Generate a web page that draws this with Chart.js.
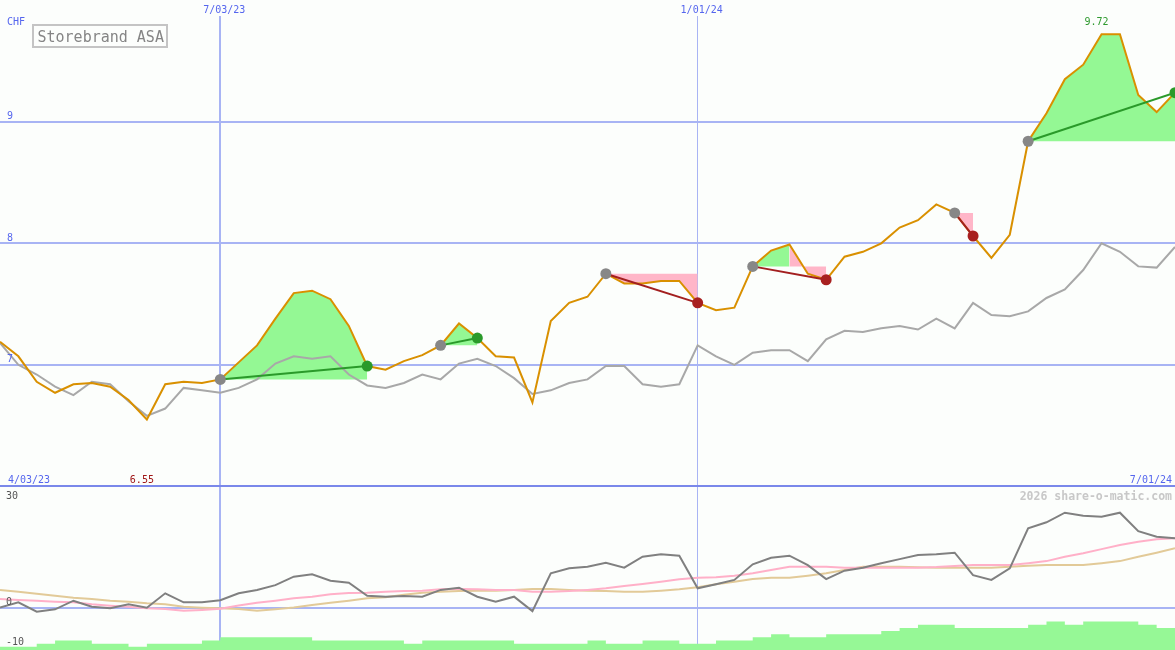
<!DOCTYPE html>
<html>
<head>
<meta charset="utf-8">
<script src="https://cdn.jsdelivr.net/npm/chart.js@4.4.1/dist/chart.umd.min.js"></script>
<style>
  html, body { margin: 0; padding: 0; background: #fcfefc; }
  canvas { display: block; }
</style>
</head>
<body>
<canvas id="chart" width="1175" height="650"></canvas>
<script>
// week index 0..64, labelled dates on the x axis
const dateLabels = ['4/03/23', '7/03/23', '1/01/24', '7/01/24'];
const dateIdx = [0, 12, 38, 64];
const priceTicks = [7, 8, 9];
const lowerTicks = [30, 0, -10];

// weekly close, CHF
const price = [
  7.19, 7.07, 6.86, 6.77, 6.84, 6.85, 6.82, 6.71, 6.55, 6.84,
  6.86, 6.85, 6.88, 7.02, 7.16, 7.38, 7.59, 7.61, 7.54, 7.32,
  6.99, 6.96, 7.03, 7.08, 7.16, 7.34, 7.22, 7.07, 7.06, 6.69,
  7.36, 7.51, 7.56, 7.75, 7.67, 7.67, 7.69, 7.69, 7.51, 7.45,
  7.47, 7.81, 7.94, 7.99, 7.75, 7.70, 7.89, 7.93, 8.00, 8.13,
  8.19, 8.32, 8.25, 8.06, 7.88, 8.07, 8.84, 9.07, 9.35, 9.47,
  9.72, 9.72, 9.22, 9.08, 9.24
];
// comparison index (grey line)
const compare = [
  7.18, 7.00, 6.92, 6.82, 6.75, 6.86, 6.84, 6.70, 6.58, 6.64,
  6.81, 6.79, 6.77, 6.81, 6.88, 7.01, 7.07, 7.05, 7.07, 6.92,
  6.83, 6.81, 6.85, 6.92, 6.88, 7.01, 7.05, 6.99, 6.89, 6.76,
  6.79, 6.85, 6.88, 6.99, 6.99, 6.84, 6.82, 6.84, 7.16, 7.07,
  7.00, 7.10, 7.12, 7.12, 7.03, 7.21, 7.28, 7.27, 7.30, 7.32,
  7.29, 7.38, 7.30, 7.51, 7.41, 7.40, 7.44, 7.55, 7.62, 7.78,
  8.00, 7.93, 7.81, 7.80, 7.97
];
// lower panel
const momentum = [
  0.0, 1.3, -1.05, -0.45, 1.7, 0.2, -0.2, 0.8, -0.05, 3.55,
  1.3, 1.3, 1.8, 3.55, 4.4, 5.6, 7.7, 8.3, 6.7, 6.2,
  2.95, 2.7, 2.9, 2.7, 4.4, 4.95, 2.7, 1.45, 2.7, -0.9,
  8.55, 9.8, 10.2, 11.2, 9.95, 12.7, 13.3, 12.95, 4.8, 5.8,
  6.9, 10.8, 12.45, 12.95, 10.6, 7.1, 9.2, 9.95, 11.05, 12.1,
  13.1, 13.3, 13.7, 8.1, 6.9, 9.8, 19.8, 21.3, 23.7, 22.95,
  22.7, 23.7, 19.1, 17.7, 17.3
];
const avgFast = [
  2.1, 1.9, 1.7, 1.45, 1.3, 0.8, 0.45, 0.2, -0.2, -0.4,
  -0.8, -0.6, -0.3, 0.5, 1.2, 1.7, 2.3, 2.7, 3.3, 3.6,
  3.7, 3.95, 4.1, 4.2, 4.55, 4.6, 4.55, 4.4, 4.4, 3.95,
  3.95, 4.1, 4.4, 4.8, 5.4, 5.9, 6.45, 7.05, 7.45, 7.55,
  7.95, 8.55, 9.4, 10.2, 10.2, 10.2, 9.95, 9.95, 9.95, 9.95,
  9.95, 10.1, 10.4, 10.6, 10.6, 10.6, 11.05, 11.6, 12.7, 13.55,
  14.6, 15.6, 16.45, 17.05, 17.3
];
const avgSlow = [
  4.4, 3.95, 3.45, 2.95, 2.45, 2.1, 1.7, 1.45, 1.05, 0.8,
  0.2, -0.05, -0.2, -0.4, -0.8, -0.45, 0.0, 0.6, 1.2, 1.7,
  2.3, 2.55, 3.2, 3.7, 3.95, 4.1, 4.2, 4.2, 4.4, 4.6,
  4.6, 4.4, 4.2, 4.1, 3.95, 3.95, 4.2, 4.55, 5.05, 5.8,
  6.45, 7.1, 7.45, 7.45, 7.95, 8.55, 9.4, 10.2, 10.2, 10.2,
  10.05, 9.95, 9.95, 9.95, 9.95, 10.2, 10.45, 10.6, 10.6, 10.6,
  11.05, 11.6, 12.7, 13.7, 14.8
];
const volume = [
  1, 1, 2, 3, 3, 2, 2, 1, 2, 2,
  2, 3, 4, 4, 4, 4, 4, 3, 3, 3,
  3, 3, 2, 3, 3, 3, 3, 3, 2, 2,
  2, 2, 3, 2, 2, 3, 3, 2, 2, 3,
  3, 4, 5, 4, 4, 5, 5, 5, 6, 7,
  8, 8, 7, 7, 7, 7, 8, 9, 8, 9,
  9, 9, 8, 7, 7
];
// signals: entry / exit week
const tradeStart = [12, 24, 33, 41, 52, 56];
const tradeEnd = [20, 26, 38, 45, 53, 64];

const BLUE = '#5566ee';
const GRID = '#a8b4f4';
const FILL_UP = '#94f894';
const FILL_DOWN = '#ffb6c8';

const pts = arr => arr.map((v, i) => ({x: i, y: v}));

const tradeLines = [];
const tradeFills = [];
tradeStart.forEach((s, k) => {
  const e = tradeEnd[k];
  const base = price[s];
  const win = price[e] >= base;
  tradeLines.push({
    data: [{x: s, y: base}, {x: e, y: price[e]}],
    yAxisID: 'y',
    borderColor: win ? '#2a9a2a' : '#a31f1f',
    borderWidth: 2,
    pointRadius: 5.5,
    pointBorderWidth: 0,
    pointBackgroundColor: ['#878787', win ? '#2a9a2a' : '#a82020']
  });
  tradeFills.push({
    data: price.slice(s, e + 1).map((v, j) => ({x: s + j, y: v})),
    yAxisID: 'y',
    borderWidth: 0,
    backgroundColor: FILL_UP,
    fill: {value: base},
    segment: {
      backgroundColor: c => c.p1.parsed.y >= base ? FILL_UP : FILL_DOWN
    }
  });
});

const datasets = [
  ...tradeLines,
  {data: pts(price), yAxisID: 'y', borderColor: '#d99000', borderWidth: 2},
  {data: pts(compare), yAxisID: 'y', borderColor: '#a8a8a8', borderWidth: 2},
  ...tradeFills,
  {data: pts(momentum), yAxisID: 'y2', borderColor: '#808080', borderWidth: 2},
  {data: pts(avgFast), yAxisID: 'y2', borderColor: '#ffb0c8', borderWidth: 2},
  {data: pts(avgSlow), yAxisID: 'y2', borderColor: '#e2ca98', borderWidth: 2},
  {data: pts(volume), yAxisID: 'y3', stepped: 'before', borderWidth: 0,
   backgroundColor: '#96f896', fill: 'origin'}
];

const overlay = {
  id: 'overlay',
  afterDraw(chart) {
    const {ctx, scales: {x, y, y2}} = chart;
    ctx.save();
    ctx.font = '10px "DejaVu Sans Mono"';
    ctx.fillStyle = BLUE;
    ctx.textAlign = 'left';
    ctx.fillText('CHF', 7, 25);
    priceTicks.forEach(v => ctx.fillText(String(v), 7, y.getPixelForValue(v) - 2.5));
    ctx.textAlign = 'center';
    for (let k = 1; k < dateIdx.length - 1; k++) {
      ctx.fillText(dateLabels[k], x.getPixelForValue(dateIdx[k]) + 4, 13);
    }
    ctx.textAlign = 'left';
    ctx.fillText(dateLabels[0], 8, 483);
    ctx.textAlign = 'right';
    ctx.fillText(dateLabels[dateLabels.length - 1], 1172, 483);

    // extremes
    const hi = Math.max(...price), lo = Math.min(...price);
    ctx.textAlign = 'center';
    ctx.fillStyle = '#2f9a2f';
    ctx.fillText(hi.toFixed(2), x.getPixelForValue(price.indexOf(hi)) - 5, 25);
    ctx.fillStyle = '#a01818';
    ctx.fillText(lo.toFixed(2), x.getPixelForValue(price.indexOf(lo)) - 5, 483);

    // lower panel tick labels
    ctx.textAlign = 'left';
    ctx.fillStyle = '#555555';
    lowerTicks.forEach((v, k) => {
      const py = y2.getPixelForValue(v);
      ctx.fillText(String(v), 6, k === 0 ? py + 11.5 : py - 2.5);
    });

    // watermark
    ctx.font = 'bold 11.5px "DejaVu Sans Mono"';
    ctx.fillStyle = '#c8c8c8';
    ctx.textAlign = 'right';
    ctx.fillText('2026 share-o-matic.com', 1172, 500);

    // title box
    ctx.strokeStyle = '#c4c4c4';
    ctx.lineWidth = 2;
    ctx.strokeRect(33, 25, 134, 22);
    ctx.font = '15px "DejaVu Sans Mono"';
    ctx.fillStyle = '#858585';
    ctx.textAlign = 'left';
    ctx.fillText('Storebrand ASA', 37.5, 42);
    ctx.restore();
  }
};

const hidden = {display: false};

new Chart(document.getElementById('chart'), {
  type: 'line',
  data: {datasets},
  options: {
    responsive: false,
    animation: false,
    events: [],
    layout: {autoPadding: false, padding: {top: 16, left: 0, right: 0, bottom: 0}},
    elements: {
      point: {radius: 0},
      line: {tension: 0, fill: false}
    },
    plugins: {legend: hidden, tooltip: {enabled: false}},
    scales: {
      x: {
        type: 'linear', min: 0, max: 64,
        border: hidden, ticks: hidden,
        grid: {drawTicks: false, color: GRID, lineWidth: c => c.index === 0 ? 2 : 1},
        afterBuildTicks: s => { s.ticks = dateIdx.slice(1, -1).map(v => ({value: v})); }
      },
      y: {
        type: 'linear', position: 'left', min: 4.6527, max: 9.8708,
        border: hidden, ticks: hidden,
        grid: {drawTicks: false, lineWidth: 2,
               color: c => c.tick.value === 6 ? '#7a88ea' : GRID},
        afterBuildTicks: s => { s.ticks = [6, ...priceTicks].map(v => ({value: v})); }
      },
      y2: {
        type: 'linear', position: 'left', min: -10.625, max: 147.875,
        border: hidden, ticks: hidden,
        grid: {drawTicks: false, lineWidth: 2, color: GRID},
        afterBuildTicks: s => { s.ticks = [{value: 0}]; }
      },
      y3: {type: 'linear', display: false, min: 0, max: 200.6}
    }
  },
  plugins: [overlay]
});
</script>
</body>
</html>
